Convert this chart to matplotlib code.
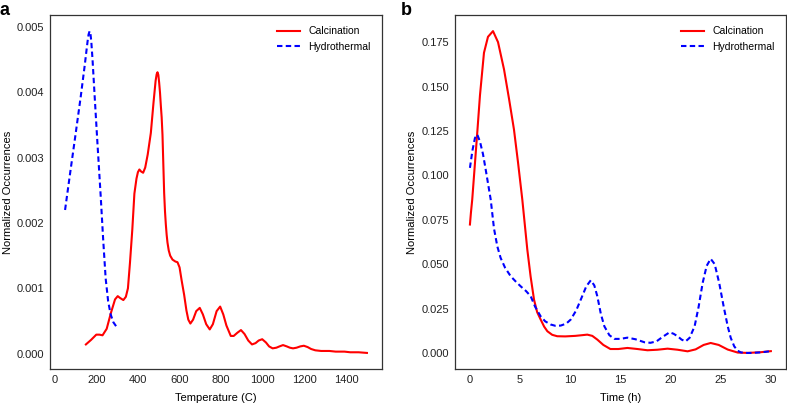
import matplotlib
matplotlib.use("Agg")
import matplotlib.pyplot as plt

plt.rcParams["font.family"] = ["Liberation Sans", "DejaVu Sans"]

# Panel a: temperature distributions
temp_calc = [150, 175, 200, 215, 230, 250, 270, 290, 303, 315, 330, 342, 352, 362,
             373, 383, 393, 400, 407, 415, 425, 435, 447, 462, 475, 485, 490, 494,
             498, 502, 506, 510, 514, 518, 522, 526, 530, 534, 538, 542, 548, 555,
             566, 580, 590, 600, 610, 622, 633, 642, 652, 665, 680, 697, 712, 728,
             745, 760, 778, 795, 810, 825, 846, 860, 878, 895, 912, 930, 948, 965,
             980, 997, 1015, 1030, 1047, 1065, 1080, 1097, 1115, 1130, 1145, 1162,
             1180, 1197, 1215, 1232, 1252, 1280, 1300, 1320, 1350, 1392, 1420, 1460,
             1500]
occ_calc = [0.00014, 0.00021, 0.00029, 0.00029, 0.00028, 0.00038, 0.00062, 0.00083,
            0.00088, 0.00085, 0.00082, 0.00087, 0.00100, 0.00140, 0.00190, 0.00245,
            0.00268, 0.00278, 0.00282, 0.00279, 0.00277, 0.00285, 0.00305, 0.00338,
            0.00385, 0.00418, 0.00428, 0.00431, 0.00427, 0.00415, 0.00400, 0.00380,
            0.00362, 0.00335, 0.00290, 0.00246, 0.00218, 0.00198, 0.00182, 0.00170,
            0.00158, 0.00150, 0.00144, 0.00141, 0.00140, 0.00132, 0.00112, 0.00090,
            0.00066, 0.00052, 0.00046, 0.00052, 0.00065, 0.00070, 0.00060, 0.00045,
            0.00037, 0.00045, 0.00065, 0.00072, 0.00060, 0.00043, 0.00027, 0.00027,
            0.00032, 0.00036, 0.00030, 0.00020, 0.00014, 0.00016, 0.00020, 0.00022,
            0.00017, 0.00011, 0.00008, 0.00009, 0.00011, 0.00013, 0.00011, 0.00009,
            0.00008, 0.00009, 0.00011, 0.00012, 0.00010, 0.00007, 0.00005, 0.00004,
            0.00004, 0.00004, 0.00003, 0.00003, 0.00002, 0.00002, 0.00001]

temp_hydro = [50, 75, 100, 125, 145, 152, 158, 163, 168, 172, 176, 182, 192, 205,
              221, 233, 245, 257, 269, 282, 295]
occ_hydro = [0.00220, 0.00278, 0.00335, 0.00393, 0.00443, 0.00462, 0.00478, 0.00489,
             0.00494, 0.00490, 0.00478, 0.00450, 0.00395, 0.00325, 0.00242, 0.00175,
             0.00115, 0.00080, 0.00060, 0.00048, 0.00042]

# Panel b: time distributions
time_calc = [0, 0.1, 0.23, 0.45, 0.73, 1.0, 1.4, 1.8, 2.3, 2.8, 3.4, 3.9, 4.39, 4.8,
             5.22, 5.72, 6.05, 6.39, 6.7, 7.05, 7.4, 7.72, 8.2, 8.7, 9.5, 10.5, 11.2,
             11.7, 12.2, 12.7, 13.3, 14.0, 14.8, 15.7, 16.7, 17.7, 18.7, 19.7, 20.7,
             21.7, 22.5, 23.3, 24.0, 24.8, 25.7, 26.7, 27.7, 29.0, 30]
occ_time_calc = [0.0723, 0.079, 0.0864, 0.103, 0.124, 0.145, 0.169, 0.178, 0.1812,
                 0.175, 0.1596, 0.143, 0.1258, 0.107, 0.0864, 0.0582, 0.043, 0.030,
                 0.023, 0.0188, 0.0148, 0.0122, 0.0102, 0.0094, 0.0093, 0.0096, 0.0100,
                 0.0103, 0.0096, 0.0075, 0.0045, 0.0022, 0.0022, 0.0028, 0.0022, 0.0015,
                 0.0018, 0.0024, 0.0018, 0.0009, 0.0020, 0.0045, 0.0056, 0.0045, 0.0019,
                 0.0002, 0.0, 0.0004, 0.001]

time_hydro = [0, 0.25, 0.5, 0.73, 1.0, 1.3, 1.57, 2.07, 2.4, 2.73, 3.06, 3.5, 4.06,
              4.6, 5.06, 5.6, 6.06, 6.5, 7.05, 7.5, 8.05, 8.5, 9.05, 9.6, 10.05, 10.6,
              11.05, 11.6, 12.05, 12.4, 12.7, 13.05, 13.4, 13.9, 14.4, 15.0, 15.7,
              16.5, 17.4, 18.0, 18.6, 19.2, 19.9, 20.3, 20.7, 21.1, 21.5, 21.9, 22.4,
              22.8, 23.2, 23.6, 24.0, 24.4, 24.85, 25.3, 25.7, 26.0, 26.35, 26.7,
              27.0, 27.5, 28.0, 29.0, 30]
occ_time_hydro = [0.1042, 0.114, 0.121, 0.123, 0.119, 0.112, 0.1033, 0.0864, 0.070,
                  0.060, 0.0535, 0.048, 0.0432, 0.040, 0.0375, 0.0348, 0.0319, 0.026,
                  0.0206, 0.0178, 0.0160, 0.0153, 0.0154, 0.0165, 0.0188, 0.024, 0.030,
                  0.0375, 0.0409, 0.038, 0.0319, 0.022, 0.015, 0.010, 0.0079, 0.0079,
                  0.0086, 0.0077, 0.0060, 0.0057, 0.0065, 0.0090, 0.0116, 0.0108,
                  0.0094, 0.0075, 0.0065, 0.0085, 0.015, 0.026, 0.0394, 0.049, 0.053,
                  0.050, 0.0394, 0.026, 0.015, 0.0085, 0.0037, 0.0012, 0.0003, 0.0,
                  0.0, 0.0003, 0.001]

temp_ticks = [0, 200, 400, 600, 800, 1000, 1200, 1400]
temp_yticks = [0.000, 0.001, 0.002, 0.003, 0.004, 0.005]
time_ticks = [0, 5, 10, 15, 20, 25, 30]
time_yticks = [0.000, 0.025, 0.050, 0.075, 0.100, 0.125, 0.150, 0.175]

fig = plt.figure(figsize=(7.87, 4.04), dpi=100)
ax1 = fig.add_axes([0.0635, 0.0866, 0.4219, 0.8762])
ax2 = fig.add_axes([0.578, 0.0866, 0.4206, 0.8762])

panels = [
    (ax1, temp_calc, occ_calc, temp_hydro, occ_hydro, temp_ticks, temp_yticks,
     "Temperature (C)"),
    (ax2, time_calc, occ_time_calc, time_hydro, occ_time_hydro, time_ticks, time_yticks,
     "Time (h)"),
]

for ax, xc, yc, xh, yh, xt, yt, xlabel in panels:
    ax.plot(xc, yc, color="red", lw=1.5, label="Calcination")
    ax.plot(xh, yh, color="blue", lw=1.5, ls=(0, (2.6, 1.6)), label="Hydrothermal")
    ax.set_xticks(xt)
    ax.set_yticks(yt)
    ax.set_yticklabels(["{:.3f}".format(v) for v in yt])
    ax.tick_params(length=0, labelsize=8, pad=4, colors="#222222")
    ax.set_xlabel(xlabel, fontsize=8, labelpad=6)
    ax.set_ylabel("Normalized Occurrences", fontsize=8, labelpad=3)
    for sp in ax.spines.values():
        sp.set_color("#333333")
        sp.set_linewidth(0.9)
    ax.legend(loc="upper right", frameon=False, fontsize=7.5, handlelength=2.2,
              borderaxespad=0.7)
    ax.margins(x=0.05, y=0.05)

fig.text(0.0, 0.995, "a", fontsize=13, fontweight="bold", va="top", ha="left")
fig.text(0.509, 0.995, "b", fontsize=13, fontweight="bold", va="top", ha="left")

fig.savefig("out.png", dpi=100)
